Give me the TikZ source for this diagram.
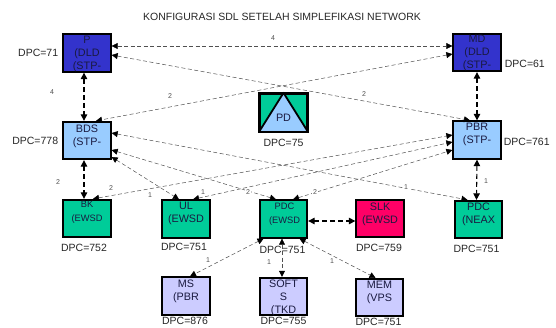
\documentclass[tikz,border=0pt]{standalone}
\usepackage{fontspec}
\setmainfont{Liberation Sans}
\usetikzlibrary{arrows.meta,calc}
\definecolor{dblue}{HTML}{3333CC}
\definecolor{lblue}{HTML}{99CCFF}
\definecolor{grn}{HTML}{00CC99}
\definecolor{pnk}{HTML}{FF0066}
\definecolor{lav}{HTML}{CCCCFF}
\definecolor{lnk}{HTML}{505050}
\definecolor{txt}{HTML}{1A1A40}
\begin{document}
\begin{tikzpicture}[x=1pt,y=-1pt,
  box/.style={draw=black,line width=1.8pt,minimum width=47.5pt,minimum height=37.5pt,inner sep=0pt},
  btxt/.style={anchor=north,align=center,inner sep=1pt,text=txt,font=\fontsize{10.8}{13}\selectfont},
  stxt/.style={anchor=north,align=center,inner sep=1pt,text=txt,font=\fontsize{9.3}{14}\selectfont},
  dpc/.style={inner sep=0pt,text=black!85,font=\fontsize{10.5}{12}\selectfont},
  lbl/.style={inner sep=0.6pt,fill=white,text=lnk,font=\fontsize{7}{8}\selectfont},
  thinlink/.style={draw=lnk,line width=0.5pt,dash pattern=on 4pt off 2.5pt,
    {Triangle[length=6pt,width=6pt,color=black]}-{Triangle[length=6pt,width=6pt,color=black]}},
  thicklink/.style={draw=black,line width=1.1pt,dash pattern=on 5pt off 3pt,
    {Triangle[length=6.5pt,width=6.5pt]}-{Triangle[length=6.5pt,width=6.5pt]}}
]
\useasboundingbox (0,0) rectangle (556,327);

% title
\node[inner sep=0pt,text=black!85,font=\fontsize{10.5}{12}\selectfont] (title) at (282,17) {KONFIGURASI SDL SETELAH SIMPLEFIKASI NETWORK};

% boxes
\node[box,fill=dblue] (P) at (87,53) {};
\node[box,fill=dblue] (MD) at (477,52.5) {};
\node[box,fill=lblue] (BDS) at (87,140.5) {};
\node[box,fill=lblue] (PBR) at (477,140) {};
\node[box,fill=grn] (PD) at (283.5,112.5) {};
\node[box,fill=grn] (BK) at (87,218.5) {};
\node[box,fill=grn] (UL) at (186,219) {};
\node[box,fill=grn] (PDCE) at (283.5,219) {};
\node[box,fill=pnk] (SLK) at (380,218.5) {};
\node[box,fill=grn] (PDCN) at (478.5,219.5) {};
\node[box,fill=lav] (MS) at (186,296) {};
\node[box,fill=lav] (SOFTS) at (283.5,296.5) {};
\node[box,fill=lav] (MEM) at (379.5,297.5) {};

% PD triangle
\fill[lblue] (PD.south west) -- (PD.north) -- (PD.south east) -- cycle;
\draw[line width=1.8pt,line join=round] (PD.south west) -- (PD.north) -- (PD.south east);
\draw[line width=1.8pt] (PD.south west) rectangle (PD.north east);

% box texts
\node[btxt] (Pt) at ($(P.north)+(0,1.5)$) {P\\(DLD\\(STP-};
\node[btxt] (MDt) at ($(MD.north)+(0,1.5)$) {MD\\(DLD\\(STP-};
\node[btxt] (BDSt) at ($(BDS.north)+(0,3)$) {BDS\\(STP-};
\node[btxt] (PBRt) at ($(PBR.north)+(0,2)$) {PBR\\(STP-};
\node[btxt,anchor=center] (PDt) at ($(PD.center)+(0,5.5)$) {PD};
\node[stxt] (BKt) at ($(BK.north)+(0,1.5)$) {BK\\(EWSD};
\node[btxt] (ULt) at ($(UL.north)+(0,1.5)$) {UL\\(EWSD};
\node[stxt] (PDCEt) at ($(PDCE.north)+(1,2)$) {PDC\\(EWSD};
\node[btxt] (SLKt) at ($(SLK.north)+(0,3)$) {SLK\\(EWSD};
\node[btxt] (PDCNt) at ($(PDCN.north)+(0,2)$) {PDC\\(NEAX};
\node[btxt] (MSt) at ($(MS.north)+(0,2)$) {MS\\(PBR};
\node[btxt] (SOFTSt) at ($(SOFTS.north)+(0,2)$) {SOFT\\S\\(TKD};
\node[btxt] (MEMt) at ($(MEM.north)+(0,2)$) {MEM\\(VPS};

% DPC labels
\node[dpc,anchor=east] (dP) at ($(P.west)+(-4,0)$) {DPC=71};
\node[dpc,anchor=west] (dMD) at ($(MD.east)+(3,11.5)$) {DPC=61};
\node[dpc,anchor=east] (dBDS) at ($(BDS.west)+(-4,0.5)$) {DPC=778};
\node[dpc,anchor=west] (dPBR) at ($(PBR.east)+(2,2)$) {DPC=761};
\node[dpc] (dPD) at ($(PD.south)+(0,11)$) {DPC=75};
\node[dpc] (dBK) at ($(BK.south)+(-3,10)$) {DPC=752};
\node[dpc] (dUL) at ($(UL.south)+(-2,8)$) {DPC=751};
\node[dpc] (dSLK) at ($(SLK.south)+(-1,10)$) {DPC=759};
\node[dpc] (dPDCN) at ($(PDCN.south)+(-2,10)$) {DPC=751};
\node[dpc,anchor=south] (dMS) at ($(MS.south)+(-1,9.5)$) {DPC=876};
\node[dpc,anchor=south] (dSOFTS) at ($(SOFTS.south)+(0,9)$) {DPC=755};
\node[dpc,anchor=south] (dMEM) at ($(MEM.south)+(-1,8.5)$) {DPC=751};

% thick vertical / horizontal links
\draw[thicklink] ($(P.south)+(-3,0)$) -- ($(BDS.north)+(-3,0)$);
\draw[thicklink] ($(BDS.south)+(-3,0)$) -- ($(BK.north)+(-3,0)$);
\draw[thicklink] (MD.south) -- (PBR.north);
\draw[thicklink] (PBR.south) -- ($(PDCN.north)+(-2,0)$);
\draw[thicklink] ($(PDCE.east)+(0,2)$) -- ($(SLK.west)+(0,2.5)$);

% thin links
\draw[thinlink] ($(P.east)+(0,-7)$) -- ($(MD.west)+(0,-6.5)$);
\draw[thinlink] ($(P.east)+(0,2)$) -- ($(PBR.north)+(-7,0)$);
\draw[thinlink] ($(MD.west)+(0,1.5)$) -- ($(BDS.north)+(9,0)$);
\draw[thinlink] ($(BDS.east)+(0,-7.5)$) -- ($(PDCN.north)+(-11,0)$);
\draw[thinlink] ($(BDS.east)+(0,9.5)$) -- ($(PDCE.north)+(-7.5,0)$);
\draw[thinlink] ($(BDS.east)+(0,16.5)$) -- ($(UL.north)+(-7,0)$);
\draw[thinlink] ($(BK.north)+(6,0)$) -- ($(PBR.west)+(0,-5)$);
\draw[thinlink] ($(UL.north)+(7,0)$) -- ($(PBR.west)+(0,2)$);
\draw[thinlink] ($(PDCE.north)+(9.5,0)$) -- ($(PBR.west)+(0,10)$);
\draw[thinlink] ($(PDCE.south)+(-20,0)$) -- ($(MS.north)+(4,0)$);
\draw[thinlink] ($(PDCE.south)+(16,0)$) -- ($(MEM.north)+(-4,0)$);

% DPC for PDC (EWSD) sits over its link
\node[dpc] (dPDCE) at ($(PDCE.south)+(-1,11)$) {DPC=751};
\draw[thinlink] ($(PDCE.south)+(-1.5,0)$) -- ($(SOFTS.north)+(-1.5,0)$);

% link labels
\node[lbl] (l1) at (273,38) {4};
\node[lbl] (l2) at (52,92) {4};
\node[lbl] (l3) at (170,96) {2};
\node[lbl] (l4) at (364,94) {2};
\node[lbl] (l5) at (58,182) {2};
\node[lbl] (l6) at (111,188) {2};
\node[lbl] (l7) at (150,195) {1};
\node[lbl] (l8) at (203,192) {1};
\node[lbl] (l9) at (248,192) {2};
\node[lbl] (l10) at (315,192) {2};
\node[lbl] (l11) at (406,187) {1};
\node[lbl] (l12) at (486,181) {1};
\node[lbl] (l13) at (208,260) {1};
\node[lbl] (l14) at (269,262) {1};
\node[lbl] (l15) at (332,261) {1};
\end{tikzpicture}
\end{document}
